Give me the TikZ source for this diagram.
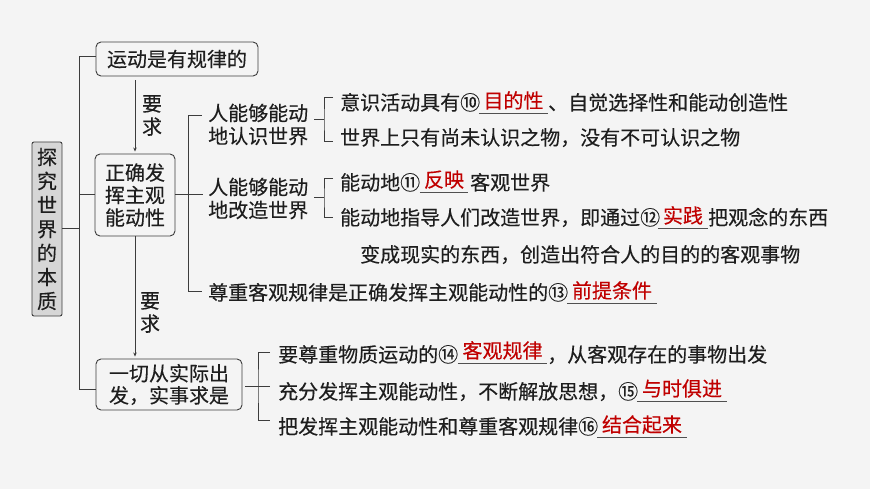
\documentclass[tikz,border=0pt]{standalone}
\usepackage{fontspec}
\setmainfont{Noto Sans CJK SC}[FakeBold=0.25]
\usetikzlibrary{arrows.meta,calc}
\definecolor{bg}{HTML}{F4F4F4}
\definecolor{ink}{HTML}{1E1E1E}
\definecolor{ansred}{HTML}{C00000}
\definecolor{edge}{HTML}{3C3C3C}
\definecolor{leftfill}{HTML}{D6D6D6}
\definecolor{ulcol}{HTML}{505050}
\begin{document}
\begin{tikzpicture}[x=1pt,y=-1pt,
  txt/.style={inner sep=0pt, anchor=west, text=ink, text height=17pt, text depth=3pt, font=\fontsize{20}{23}\selectfont},
  mtxt/.style={inner sep=0pt, text=ink, font=\fontsize{20}{23}\selectfont},
  ans/.style={inner xsep=0pt, inner ysep=1.7pt, anchor=south, text=ansred, text height=17pt, text depth=3pt, font=\fontsize{20}{23}\selectfont},
  uline/.style={draw=ulcol, line width=0.8pt},
  box/.style={draw=edge, line width=0.9pt, rounded corners=5pt, inner sep=0pt, text=ink, align=center, fill=bg},
  conn/.style={draw=edge, line width=1pt},
  arr/.style={conn, -{Stealth[length=4pt,width=3.5pt]}}]
\useasboundingbox (0,0) rectangle (870,489);
\fill[bg] (0,0) rectangle (870,489);

% boxes
\node[box, fill=leftfill, rounded corners=2pt, minimum width=30, minimum height=174, font=\fontsize{20}{24}\selectfont] (L) at (47,229) {探\\究\\世\\界\\的\\本\\质};
\node[box, minimum width=162, minimum height=34, font=\fontsize{20}{23}\selectfont] (B1) at (177,59) {运动是有规律的};
\node[box, minimum width=80, minimum height=82, font=\fontsize{20}{22.5}\selectfont] (B2) at (135,195) {正确发\\挥主观\\能动性};
\node[box, minimum width=146, minimum height=51, font=\fontsize{20}{22}\selectfont] (B3) at (169,384.5) {一切从实际出\\发，实事求是};

% arrow labels
\node[mtxt, align=center] (Q1) at (152,115.5) {要\\求};
\node[mtxt, align=center] (Q2) at (150,312.5) {要\\求};

% second level
\node[mtxt, align=left, anchor=west] (K1) at (208,124.5) {人能够能动\\地认识世界};
\node[mtxt, align=left, anchor=west] (K2) at (208,198.5) {人能够能动\\地改造世界};

% rows
\node[txt] (R1) at (340,103) {意识活动具有⑩};
\node[ans, minimum width=69] (A10) at (513.5,113) {目的性};
\node[txt] (R1b) at (548,103) {、自觉选择性和能动创造性};
\node[txt] (R2) at (340,138) {世界上只有尚未认识之物，没有不可认识之物};
\node[txt] (R3) at (340,183) {能动地⑪};
\node[ans, minimum width=48] (A11) at (444,192) {反映};
\node[txt] (R3b) at (470,183) {客观世界};
\node[txt] (R4) at (340,218) {能动地指导人们改造世界，即通过⑫};
\node[ans, minimum width=50] (A12) at (683,228) {实践};
\node[txt] (R4b) at (708,218) {把观念的东西};
\node[txt] (R5) at (360,255) {变成现实的东西，创造出符合人的目的的客观事物};
\node[txt] (R6) at (208,293) {尊重客观规律是正确发挥主观能动性的⑬};
\node[ans, minimum width=90] (A13) at (612,303) {前提条件};
\node[txt] (R7) at (278,355) {要尊重物质运动的⑭};
\node[ans, minimum width=89] (A14) at (502.5,363) {客观规律};
\node[txt] (R7b) at (547,355) {，从客观存在的事物出发};
\node[txt] (R8) at (278,392) {充分发挥主观能动性，不断解放思想，⑮};
\node[ans, minimum width=90] (A15) at (682,401) {与时俱进};
\node[txt] (R9) at (278,427) {把发挥主观能动性和尊重客观规律⑯};
\node[ans, minimum width=90] (A16) at (642,437) {结合起来};

% underlines
\foreach \a in {A10,A11,A12,A13,A14,A15,A16}
  \draw[uline] (\a.south west) -- (\a.south east);

% trunk
\coordinate (T1) at (79,57);
\coordinate (T3) at (79,389);
\draw[conn] (B1.west |- T1) -- (T1) -- (T3) -- (B3.west |- T3);
\draw[conn] (B2.west) -- (B2.west -| T1);
\draw[conn] (L.east) -- (L.east -| T1);

% arrows
\draw[arr, shorten <=4pt, shorten >=2pt] (B1.south -| B2.north) -- (B2.north);
\draw[arr, shorten >=2pt] (B2.south) -- (B2.south |- B3.north);

% middle branch
\coordinate (V1) at (188,116);
\coordinate (V2) at (188,291);
\draw[conn] (V1) -- (V2);
\draw[conn, shorten >=6pt] (V1) -- (V1 -| K1.west);
\draw[conn, shorten >=5pt] (B2.east) -- (B2.east -| K2.west);
\draw[conn, shorten >=6pt] (V2) -- (V2 -| R6.west);

% bracket 1
\coordinate (b1) at (324,120);
\draw[conn, shorten <=6pt] (K1.east |- b1) -- (b1);
\draw[conn] ($(R1.west)+(-7,-5)$) -| (b1) |- ($(R2.west)+(-7,4)$);

% bracket 2
\coordinate (b2) at (324,198);
\draw[conn, shorten <=6pt] (K2.east |- b2) -- (b2);
\draw[conn] ($(R3.west)+(-7,-4)$) -| (b2) |- ($(R4.west)+(-7,0)$);

% bracket 3
\coordinate (b3) at (258,386);
\draw[conn, shorten <=3pt] (B3.east |- b3) -- ($(R8.west)+(-8,-6)$);
\draw[conn] ($(R7.west)+(-8,-3)$) -| (b3) |- ($(R9.west)+(-8,-7)$);
\end{tikzpicture}
\end{document}
